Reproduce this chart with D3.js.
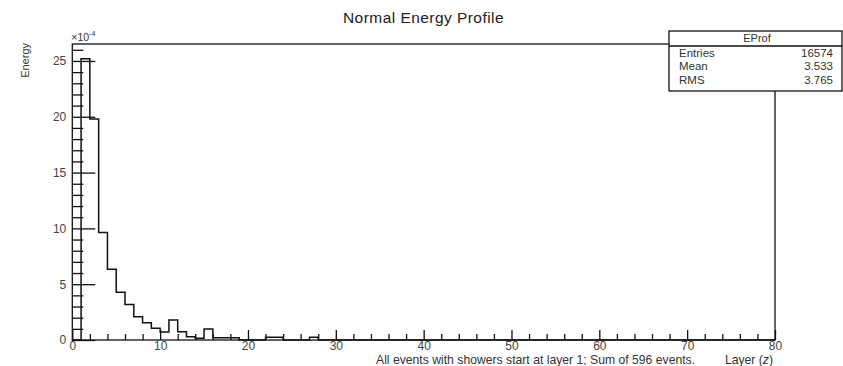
<!DOCTYPE html>
<html><head><meta charset="utf-8">
<script src="https://cdn.jsdelivr.net/npm/d3@7"></script>
<style>
html,body{margin:0;padding:0;background:#fff;}
svg{display:block;font-family:"Liberation Sans",Arial,Helvetica,sans-serif;}
</style></head>
<body>
<svg id="c" width="843" height="366"></svg>
<script>
// Energy per layer (units of 1e-4), bin n covers [n, n+1)
const layerEnergy = [0, 25.2, 19.8, 9.63, 6.34, 4.28, 3.17, 2.09, 1.55, 1.05,
  0.72, 1.8, 0.75, 0.3, 0.15, 0.99, 0.2, 0.2, 0.2, 0,
  0, 0, 0.25, 0.25, 0, 0, 0, 0.25, 0, 0,
  0,0,0,0,0,0,0,0,0,0, 0,0,0,0,0,0,0,0,0,0,
  0,0,0,0,0,0,0,0,0,0, 0,0,0,0,0,0,0,0,0,0,
  0,0,0,0,0,0,0,0,0,0];
const xMajorTicks = [0,10,20,30,40,50,60,70,80];
const yMajorTicks = [0,5,10,15,20,25];
const statsLabels = ["Entries","Mean","RMS"];
const statsValues = ["16574","3.533","3.765"];
const title = "Normal Energy Profile";
const statsTitle = "EProf";
const xTitle = "Layer (";
const caption = "All events with showers start at layer 1; Sum of 596 events.";
const yTitle = "Energy";

const svg = d3.select("#c");
const L = 72.3, R = 775, T = 44, B = 340;
const x = d3.scaleLinear().domain([0,80]).range([L,R]);
const y = d3.scaleLinear().domain([0,26.52]).range([B,T]);
const ink = "#111", txt = "#333";

// histogram
const pts = layerEnergy.map((v,i)=>[i,v]);
pts.push([80, layerEnergy[79]]);
const line = d3.line().x(d=>x(d[0])).y(d=>y(d[1])).curve(d3.curveStepAfter);
svg.append("path").attr("d", line(pts)).attr("fill","none")
  .attr("stroke", ink).attr("stroke-width",1.5);

// frame
svg.append("rect").attr("x",L).attr("y",T).attr("width",R-L).attr("height",B-T)
  .attr("fill","none").attr("stroke",ink).attr("stroke-width",1.3);

// y axis
const yMinor = d3.range(0,27,1).filter(v=>v%5!==0);
const gyMin = svg.append("g").attr("transform",`translate(${L},0)`)
  .call(d3.axisLeft(y).tickValues(yMinor).tickSize(-11).tickFormat(""));
const gy = svg.append("g").attr("transform",`translate(${L},0)`)
  .call(d3.axisLeft(y).tickValues(yMajorTicks).tickSize(-23).tickPadding(6).tickFormat(d3.format("d")));
// x axis
const xMinor = d3.range(0,81,2).filter(v=>v%10!==0);
const gxMin = svg.append("g").attr("transform",`translate(0,${B})`)
  .call(d3.axisBottom(x).tickValues(xMinor).tickSize(-6).tickFormat(""));
const gx = svg.append("g").attr("transform",`translate(0,${B})`)
  .call(d3.axisBottom(x).tickValues(xMajorTicks).tickSize(-10).tickPadding(1).tickFormat(d3.format("d")));
[gyMin,gy,gxMin,gx].forEach(g=>{
  g.select(".domain").remove();
  g.selectAll(".tick line").attr("stroke",ink).attr("stroke-width",1.3);
  g.selectAll("text").attr("fill","#444").attr("font-size",12).attr("font-family",'"Liberation Sans",Arial,sans-serif');
});

// x10^-4
const mul = svg.append("text").attr("x",L-1).attr("y",41).attr("font-size",10.5).attr("fill",txt);
mul.append("tspan").text("\u00d710");
mul.append("tspan").attr("font-size",7).attr("dy",-5).text("-4");

// y title
svg.append("text").attr("transform",`translate(29,43) rotate(-90)`).attr("text-anchor","end")
  .attr("font-size",11).attr("fill",txt).text(yTitle);

// title
svg.append("text").attr("x",423.5).attr("y",23).attr("text-anchor","middle")
  .attr("font-size",15.5).attr("letter-spacing",0.45).attr("fill","#222").text(title);

// captions
svg.append("text").attr("x",376).attr("y",364).attr("font-size",12.2).attr("fill",txt).text(caption);
const xt = svg.append("text").attr("x",773).attr("y",364).attr("text-anchor","end")
  .attr("font-size",12.2).attr("fill",txt);
xt.append("tspan").text(xTitle);
xt.append("tspan").attr("font-style","italic").text("z");
xt.append("tspan").text(")");

// stats box
const bx=669, by=31, bw=173, bh=60;
svg.append("rect").attr("x",bx).attr("y",by).attr("width",bw).attr("height",bh)
  .attr("fill","#fff").attr("stroke",ink).attr("stroke-width",1.3);
svg.append("line").attr("x1",bx).attr("x2",bx+bw).attr("y1",46).attr("y2",46)
  .attr("stroke",ink).attr("stroke-width",1.3);
svg.append("text").attr("x",757).attr("y",42).attr("text-anchor","middle")
  .attr("font-size",11).attr("fill",txt).text(statsTitle);
statsLabels.forEach((s,i)=>{
  const yy = 56.5 + i*13.8;
  svg.append("text").attr("x",679).attr("y",yy).attr("font-size",11.5).attr("fill",txt).text(s);
  svg.append("text").attr("x",833).attr("y",yy).attr("text-anchor","end").attr("font-size",11.5).attr("fill",txt).text(statsValues[i]);
});
</script>
</body></html>
